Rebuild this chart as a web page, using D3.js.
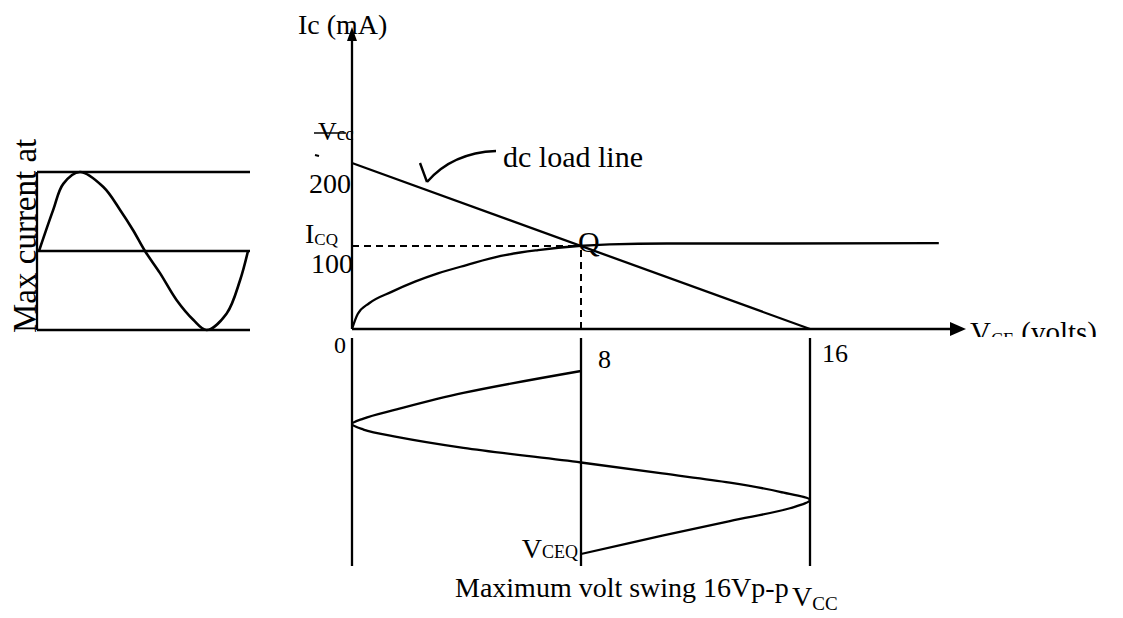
<!DOCTYPE html>
<html>
<head>
<meta charset="utf-8">
<script src="https://cdn.jsdelivr.net/npm/d3@7"></script>
<style>
  body { margin: 0; background: #fff; }
  svg text { font-family: "Liberation Serif", "DejaVu Serif", serif; fill: #000; }
</style>
</head>
<body>
<svg id="chart" width="1123" height="618"></svg>
<script>
// values
const loadLine = [[0, 200], [16, 0]];        // Vce (V), Ic (mA)
const qPoint = [8, 100];
const curveV = [0, 0.2, 0.6, 1.4, 2.2, 3, 4, 5.2, 6.5, 7.9, 9, 11, 15, 20.5];
const curveI = [0, 18, 31, 45, 57, 67, 77, 88, 95, 100, 102, 103, 103, 103.5];
const xTicks = [0, 8, 16];

// output voltage swing (time runs downward)
const swingT = [0, .12, .21, .26, .29, .32, .36, .42, .50, .56, .61, .66, .705, .75, .82, .90, 1];
const swingV = [8, 3.89, 1.56, 0.4, 0, 0.4, 1.56, 3.89, 8, 10.84, 13.2, 14.95, 16, 15.3, 13.2, 10.84, 8];

// input current sine (left)
const inT = [0, .068, .116, .196, .308, .388, .451, .507, .579, .658, .738, .802, .898, .962, 1];
const inA = [0, .52, .85, 1, .81, .52, .26, 0, -.28, -.62, -.87, -1, -.79, -.37, 0];
const inLevels = [1, 0, -1];

const svg = d3.select("#chart");

const x = d3.scaleLinear().domain([0, 16]).range([352, 810]);
const y = d3.scaleLinear().domain([0, 200]).range([329, 163]);
const tY = d3.scaleLinear().domain([0, 1]).range([371, 554]);
const inX = d3.scaleLinear().domain([0, 1]).range([39, 248]);
const inY = d3.scaleLinear().domain([-1, 1]).range([330, 172]);

const ink = "#000";
const sw = 2.3;

// axes
svg.append("line")
  .attr("x1", x(0)).attr("x2", x(0))
  .attr("y1", y(0)).attr("y2", 38)
  .attr("stroke", ink).attr("stroke-width", sw);
svg.append("path")
  .attr("d", `M${x(0)},27 L${x(0) - 5},41 L${x(0) + 5},41 Z`)
  .attr("fill", ink);

svg.append("line")
  .attr("x1", x(0)).attr("x2", 952)
  .attr("y1", y(0)).attr("y2", y(0))
  .attr("stroke", ink).attr("stroke-width", sw);
svg.append("path")
  .attr("d", `M966,${y(0)} L950,${y(0) - 7} L950,${y(0) + 7} Z`)
  .attr("fill", ink);

// load line
svg.append("line")
  .attr("x1", x(loadLine[0][0])).attr("y1", y(loadLine[0][1]))
  .attr("x2", x(loadLine[1][0])).attr("y2", y(loadLine[1][1]))
  .attr("stroke", ink).attr("stroke-width", sw);

// characteristic curve
const curveData = curveV.map((v, i) => [v, curveI[i]]);
svg.append("path")
  .datum(curveData)
  .attr("fill", "none").attr("stroke", ink).attr("stroke-width", sw)
  .attr("d", d3.line().x(d => x(d[0])).y(d => y(d[1])).curve(d3.curveMonotoneX));

// Q dashed guides
svg.append("line")
  .attr("x1", x(0)).attr("x2", x(qPoint[0]) - 6)
  .attr("y1", y(qPoint[1])).attr("y2", y(qPoint[1]))
  .attr("stroke", ink).attr("stroke-width", 2).attr("stroke-dasharray", "7,5");
svg.append("line")
  .attr("x1", x(qPoint[0])).attr("x2", x(qPoint[0]))
  .attr("y1", y(qPoint[1]) + 4).attr("y2", y(0))
  .attr("stroke", ink).attr("stroke-width", 2).attr("stroke-dasharray", "7,5");

// vertical lines below the axis
svg.selectAll(".vline")
  .data(xTicks)
  .join("line")
    .attr("class", "vline")
    .attr("x1", d => x(d)).attr("x2", d => x(d))
    .attr("y1", 338).attr("y2", 566)
    .attr("stroke", ink).attr("stroke-width", sw);

// voltage swing
const swingData = swingT.map((t, i) => [swingV[i], t]);
svg.append("path")
  .datum(swingData)
  .attr("fill", "none").attr("stroke", ink).attr("stroke-width", sw)
  .attr("d", d3.line().x(d => x(d[0])).y(d => tY(d[1])).curve(d3.curveCatmullRom));

// input sine box
svg.selectAll(".lvl")
  .data(inLevels)
  .join("line")
    .attr("class", "lvl")
    .attr("x1", inX(0) - 2).attr("x2", 250)
    .attr("y1", d => inY(d)).attr("y2", d => inY(d))
    .attr("stroke", ink).attr("stroke-width", sw);
svg.append("line")
  .attr("x1", inX(0) - 2).attr("x2", inX(0) - 2)
  .attr("y1", inY(1)).attr("y2", inY(-1))
  .attr("stroke", ink).attr("stroke-width", sw);

const inData = inT.map((t, i) => [t, inA[i]]);
svg.append("path")
  .datum(inData)
  .attr("fill", "none").attr("stroke", ink).attr("stroke-width", 2.6)
  .attr("d", d3.line().x(d => inX(d[0])).y(d => inY(d[1])).curve(d3.curveCatmullRom));

// dc load line pointer
svg.append("path")
  .attr("d", "M496,151 C470,152 446,160 427,182 M420,163 L427,182")
  .attr("fill", "none").attr("stroke", ink).attr("stroke-width", 2.4);

// labels
function label(tx, ty, size, parts, anchor) {
  const t = svg.append("text")
    .attr("x", tx).attr("y", ty)
    .attr("font-size", size)
    .attr("text-anchor", anchor || "start");
  parts.forEach(p => {
    const s = t.append("tspan").text(p.text);
    if (p.size) s.attr("font-size", p.size);
    if (p.dy) s.attr("dy", p.dy);
  });
  return t;
}

label(298, 34, 28, [{text: "Ic (mA)"}]);
label(318, 140, 26, [{text: "V"}, {text: "cc", size: 19}]);
svg.append("line").attr("x1", 314).attr("x2", 346).attr("y1", 133).attr("y2", 133)
  .attr("stroke", ink).attr("stroke-width", 1.5);
svg.append("line").attr("x1", 315).attr("x2", 319).attr("y1", 155).attr("y2", 156)
  .attr("stroke", ink).attr("stroke-width", 2);
label(x(0) - 1, 193, 28, [{text: "200"}], "end");
label(305, 243, 28, [{text: "I"}, {text: "CQ", size: 17, dy: 2}]);
label(x(0) + 1, 273, 28, [{text: "100"}], "end");
label(x(qPoint[0]) - 3, 252, 30, [{text: "Q"}]);
label(503, 167, 30, [{text: "dc load line"}]);

label(x(0) - 18, 353, 24, [{text: "0"}]);
label(x(8) + 17, 368, 26, [{text: "8"}]);
label(x(16) + 12, 362, 26, [{text: "16"}]);

label(x(8) - 3, 558, 28, [{text: "V"}, {text: "CEQ", size: 18}], "end");
label(455, 597, 28, [{text: "Maximum volt swing 16Vp-p"}]);
label(792, 606, 28, [{text: "V"}, {text: "CC", size: 19, dy: 4}]);

// x axis title (the scan cuts it off)
svg.append("clipPath").attr("id", "cut")
  .append("rect").attr("x", 960).attr("y", 300).attr("width", 163).attr("height", 37);
label(970, 342, 29, [{text: "V"}, {text: "CE", size: 18, dy: 4}, {text: " (volts)", dy: -4}])
  .attr("clip-path", "url(#cut)");

svg.append("text")
  .attr("transform", "translate(36,333) rotate(-90)")
  .attr("font-size", 33)
  .text("Max current at");
</script>
</body>
</html>
